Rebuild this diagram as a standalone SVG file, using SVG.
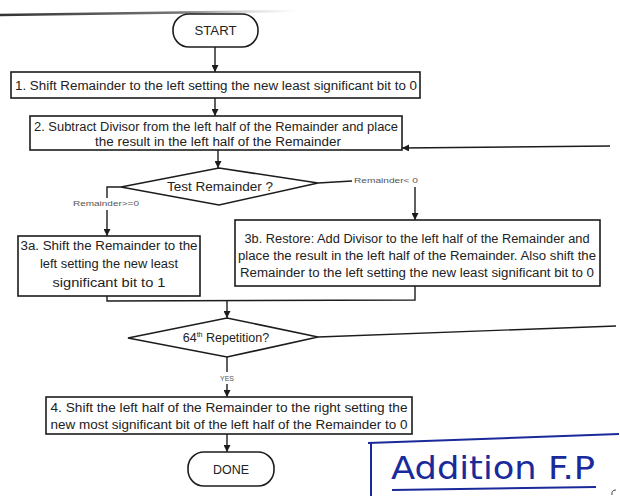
<svg xmlns="http://www.w3.org/2000/svg" width="620" height="496" viewBox="0 0 620 496">
<defs>
<style>
.box{fill:#fff;stroke:#1c1c1c;stroke-width:1.6}
.t{font-family:"Liberation Sans",Arial,sans-serif;font-size:12.5px;fill:#222}
.c{text-anchor:middle}
.s{font-family:"Liberation Sans",Arial,sans-serif;font-size:7px;fill:#555;text-anchor:middle}
.ln{fill:none;stroke:#1c1c1c;stroke-width:1.4}
.hw{fill:none;stroke:#1a2a9a;stroke-width:2}
</style>
<marker id="a" viewBox="0 0 8 8" refX="8" refY="4" markerWidth="7" markerHeight="7" markerUnits="userSpaceOnUse" orient="auto">
<path d="M0,0 L8,4 L0,8 z" fill="#1c1c1c"/>
</marker>
<linearGradient id="g" x1="0" x2="1" y1="0" y2="0">
<stop offset="0" stop-color="#333"/>
<stop offset="0.6" stop-color="#777"/>
<stop offset="1" stop-color="#ccc" stop-opacity="0"/>
</linearGradient>
</defs>
<rect width="620" height="496" fill="#fff"/>
<path d="M0,15 L300,11" stroke="url(#g)" stroke-width="2.5" fill="none"/>

<g id="connectors">
<path class="ln" d="M215,47 L215,72" marker-end="url(#a)"/>
<path class="ln" d="M215,98 L215,116" marker-end="url(#a)"/>
<path class="ln" d="M610,146 L402,148" marker-end="url(#a)"/>
<path class="ln" d="M218,150 L218,168" marker-end="url(#a)"/>
<path class="ln" d="M121,187 L107,187 L107,198"/>
<path class="ln" d="M107,210 L107,236" marker-end="url(#a)"/>
<path class="ln" d="M318,183 L352,181"/>
<path class="ln" d="M415,187 L415,220" marker-end="url(#a)"/>
<path class="ln" d="M107,296 L107,301 L415,300 L415,286"/>
<path class="ln" d="M227,301 L227,318" marker-end="url(#a)"/>
<path class="ln" d="M318,337 L616,326"/>
<path class="ln" d="M227,357 L227,372"/>
<path class="ln" d="M227,384 L227,397" marker-end="url(#a)"/>
<path class="ln" d="M227,434 L227,452" marker-end="url(#a)"/>
<text class="s" x="106" y="206" textLength="66" lengthAdjust="spacingAndGlyphs">Remainder&gt;=0</text>
<text class="s" x="386" y="183" textLength="64" lengthAdjust="spacingAndGlyphs">Remainder&lt; 0</text>
<text class="s" x="227" y="381">YES</text>
</g>

<g id="start">
<rect class="box" x="173" y="14" width="85" height="33" rx="16"/>
<text class="t c" x="215.5" y="35" textLength="42" lengthAdjust="spacingAndGlyphs">START</text>
</g>

<g id="step1">
<rect class="box" x="11" y="72" width="409" height="26"/>
<text class="t" x="15" y="90" textLength="402" lengthAdjust="spacingAndGlyphs">1. Shift Remainder to the left  setting the new least significant bit to 0</text>
</g>

<g id="step2">
<rect class="box" x="30" y="116" width="372" height="34"/>
<text class="t c" x="216" y="131" textLength="364" lengthAdjust="spacingAndGlyphs">2. Subtract Divisor from the left half of the Remainder and place</text>
<text class="t c" x="218" y="146" textLength="246" lengthAdjust="spacingAndGlyphs">the result in the left half of the Remainder</text>
</g>

<g id="test">
<path class="box" d="M121,187 L219,168 L318,183 L219,205 Z"/>
<text class="t c" x="220" y="191" textLength="106" lengthAdjust="spacingAndGlyphs">Test Remainder ?</text>
</g>

<g id="step3a">
<rect class="box" x="18" y="236" width="182" height="60"/>
<text class="t c" x="109" y="250" textLength="177" lengthAdjust="spacingAndGlyphs">3a. Shift the Remainder to the</text>
<text class="t c" x="109" y="268" textLength="138" lengthAdjust="spacingAndGlyphs">left setting the new least</text>
<text class="t c" x="109" y="287" textLength="113" lengthAdjust="spacingAndGlyphs">significant bit to 1</text>
</g>

<g id="step3b">
<rect class="box" x="235" y="220" width="365" height="66"/>
<text class="t c" x="417" y="243" textLength="345" lengthAdjust="spacingAndGlyphs">3b. Restore: Add Divisor to the left half of the Remainder and</text>
<text class="t c" x="417" y="260" textLength="358" lengthAdjust="spacingAndGlyphs">place the result in the left half of the Remainder. Also shift the</text>
<text class="t c" x="417" y="277" textLength="354" lengthAdjust="spacingAndGlyphs">Remainder to the left setting the new least significant bit to 0</text>
</g>

<g id="repeat">
<path class="box" d="M128,338 L227,318 L318,337 L227,357 Z"/>
<text class="t c" x="226" y="342">64<tspan font-size="7" dy="-5">th</tspan><tspan dy="5"> Repetition?</tspan></text>
</g>

<g id="step4">
<rect class="box" x="46" y="397" width="366" height="37"/>
<text class="t c" x="229" y="412" textLength="357" lengthAdjust="spacingAndGlyphs">4. Shift  the left half of the Remainder to the right setting the</text>
<text class="t c" x="229" y="429" textLength="357" lengthAdjust="spacingAndGlyphs">new most significant bit of the left half of the Remainder to 0</text>
</g>

<g id="done">
<rect class="box" x="188" y="452" width="86" height="34" rx="16"/>
<text class="t c" x="231" y="474" textLength="36" lengthAdjust="spacingAndGlyphs">DONE</text>
</g>

<g id="note">
<path class="hw" d="M368,443 L619,434"/>
<path class="hw" d="M371,443 L371,496"/>
<path class="hw" d="M392,490 L596,487"/>
<text x="391" y="479" font-family="'DejaVu Sans',sans-serif" font-size="32" fill="#1a2a9a" textLength="204" lengthAdjust="spacingAndGlyphs">Addition  F.P</text>
<path d="M616,490 Q611,490 612,495" fill="none" stroke="#444" stroke-width="1"/>
</g>
</svg>
